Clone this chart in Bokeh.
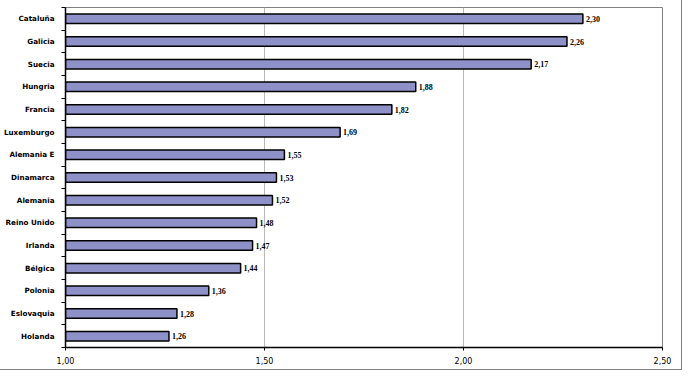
from bokeh.plotting import figure
from bokeh.models import ColumnDataSource, FixedTicker, Range1d, LabelSet
from bokeh.embed import file_html
from bokeh.resources import INLINE

countries = ["Cataluña", "Galicia", "Suecia", "Hungria", "Francia", "Luxemburgo",
             "Alemania E", "Dinamarca", "Alemania", "Reino Unido", "Irlanda",
             "Bélgica", "Polonia", "Eslovaquia", "Holanda"]
values = [2.30, 2.26, 2.17, 1.88, 1.82, 1.69, 1.55, 1.53, 1.52, 1.48, 1.47,
          1.44, 1.36, 1.28, 1.26]
x_ticks = [1.0, 1.5, 2.0, 2.5]
x_tick_labels = ["1,00", "1,50", "2,00", "2,50"]

n = len(countries)
ypos = [n - i - 0.5 for i in range(n)]
labels = [f"{v:.2f}".replace(".", ",") for v in values]
base = 1.0

src = ColumnDataSource(dict(y=ypos, v=values, lab=labels, left=[base] * n))

p = figure(width=682, height=370, output_backend="svg", toolbar_location=None,
           x_range=Range1d(1.0, 2.5), y_range=Range1d(0, n),
           min_border_left=63, min_border_right=20, min_border_top=7,
           min_border_bottom=23,
           styles={"border-right": "1px solid #808080",
                   "border-bottom": "1px solid #808080"})

p.hbar(y="y", left="left", right="v", height=0.42, source=src,
       fill_color="#8E90C8", line_color="black", line_width=1.5)

p.add_layout(LabelSet(x="v", y="y", text="lab", source=src, x_offset=3,
                      text_font="DejaVu Sans", text_font_style="bold",
                      text_font_size="8px", text_baseline="middle",
                      text_color="black"))

p.outline_line_color = "#808080"
p.outline_line_width = 1
p.background_fill_color = "white"
p.border_fill_color = "white"

p.xgrid.ticker = FixedTicker(ticks=x_ticks)
p.xgrid.grid_line_color = "#b8b8b8"
p.xgrid.grid_line_width = 1
p.ygrid.grid_line_color = None

xa = p.xaxis[0]
xa.ticker = FixedTicker(ticks=x_ticks)
xa.major_label_overrides = {t: l for t, l in zip(x_ticks, x_tick_labels)}
xa.major_label_text_font = "DejaVu Sans"
xa.major_label_text_font_size = "8px"
xa.major_label_text_color = "black"
xa.major_tick_in = 0
xa.major_tick_out = 3
xa.minor_tick_line_color = None
xa.axis_line_color = "black"
xa.axis_line_width = 1.5
xa.major_label_standoff = 6

ya = p.yaxis[0]
ya.ticker = FixedTicker(ticks=ypos, minor_ticks=list(range(n + 1)))
ya.major_label_overrides = {y: c for y, c in zip(ypos, countries)}
ya.major_label_text_font = "DejaVu Sans"
ya.major_label_text_font_style = "bold"
ya.major_label_text_font_size = "7.2px"
ya.major_label_text_color = "black"
ya.major_tick_line_color = None
ya.minor_tick_in = 0
ya.minor_tick_out = 4
ya.minor_tick_line_color = "black"
ya.axis_line_color = "black"
ya.axis_line_width = 1.5
ya.major_label_standoff = 5

open("out.html", "w").write(file_html(p, INLINE))
